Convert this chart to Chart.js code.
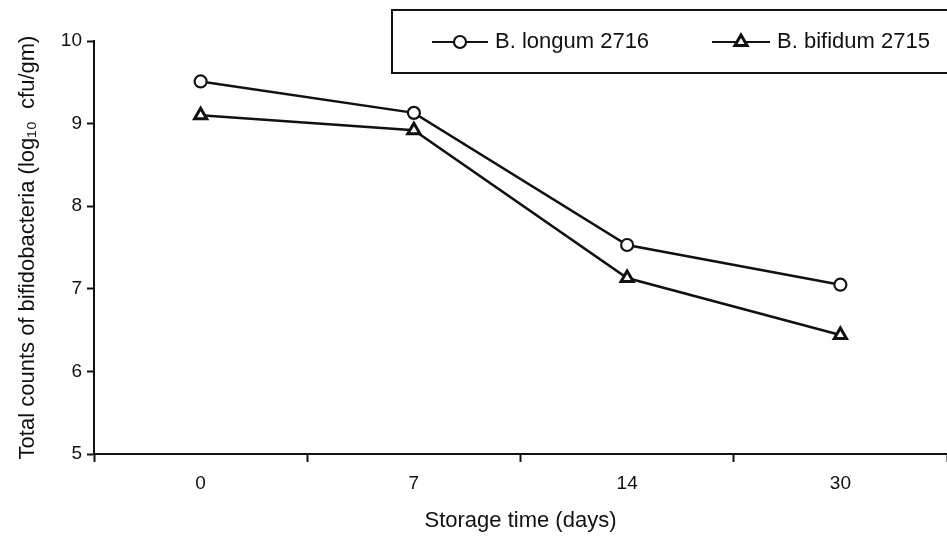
<!DOCTYPE html>
<html>
<head>
<meta charset="utf-8">
<script src="https://cdn.jsdelivr.net/npm/chart.js@4"></script>
<style>
  html, body { margin: 0; padding: 0; background: #fff; overflow: hidden; }
  canvas { display: block; }
</style>
</head>
<body>
<canvas id="c" width="947" height="538"></canvas>
<script>
// ---- data ----
const categories = ['0', '7', '14', '30'];
const longumValues = [9.51, 9.13, 7.53, 7.05];
const bifidumValues = [9.10, 8.92, 7.13, 6.44];
const seriesNames = ['B. longum 2716', 'B. bifidum 2715'];
const yTicks = [5, 6, 7, 8, 9, 10];
const xTitle = 'Storage time (days)';
const yTitle = 'Total counts of bifidobacteria (log\u2081\u2080  cfu/gm)';

const FONT = '"Liberation Sans", Arial, Helvetica, sans-serif';
const INK = '#111';

function drawMarker(ctx, style, x, y, r, bw) {
  ctx.save();
  ctx.lineWidth = bw;
  ctx.strokeStyle = INK;
  ctx.fillStyle = '#fff';
  ctx.beginPath();
  if (style === 'circle') {
    ctx.arc(x, y, r, 0, Math.PI * 2);
  } else {
    const s = r * 3 / Math.sqrt(3);
    const h = s * Math.sqrt(3) / 2;
    ctx.moveTo(x - s / 2, y + h / 3);
    ctx.lineTo(x + s / 2, y + h / 3);
    ctx.lineTo(x, y - 2 * h / 3);
    ctx.closePath();
  }
  ctx.fill();
  ctx.stroke();
  ctx.restore();
}

const boxLegend = {
  id: 'boxLegend',
  afterDraw(chart) {
    const ctx = chart.ctx;
    ctx.save();
    ctx.lineWidth = 2;
    ctx.strokeStyle = INK;
    ctx.fillStyle = '#fff';
    ctx.fillRect(392, 10, 600, 63);
    ctx.strokeRect(392, 10, 600, 63);
    const items = [
      { x0: 432, x1: 488, tx: 495 },
      { x0: 712, x1: 770, tx: 777 }
    ];
    const cy = 42;
    chart.data.datasets.forEach((ds, i) => {
      const it = items[i];
      ctx.lineWidth = 2;
      ctx.strokeStyle = INK;
      ctx.beginPath();
      ctx.moveTo(it.x0, cy);
      ctx.lineTo(it.x1, cy);
      ctx.stroke();
      drawMarker(ctx, ds.pointStyle, (it.x0 + it.x1) / 2, cy, ds.pointRadius, ds.pointBorderWidth);
      ctx.fillStyle = INK;
      ctx.font = '22px ' + FONT;
      ctx.textBaseline = 'middle';
      ctx.textAlign = 'left';
      ctx.fillText(ds.label, it.tx, cy);
    });
    ctx.restore();
  }
};

new Chart(document.getElementById('c'), {
  type: 'line',
  data: {
    labels: categories,
    datasets: [
      {
        label: seriesNames[0],
        data: longumValues,
        borderColor: INK,
        borderWidth: 2.5,
        pointStyle: 'circle',
        pointRadius: 6,
        pointBorderWidth: 2.2,
        pointBackgroundColor: '#fff',
        pointBorderColor: INK,
        tension: 0
      },
      {
        label: seriesNames[1],
        data: bifidumValues,
        borderColor: INK,
        borderWidth: 2.5,
        pointStyle: 'triangle',
        pointRadius: 7,
        pointBorderWidth: 3,
        pointBackgroundColor: '#fff',
        pointBorderColor: INK,
        tension: 0
      }
    ]
  },
  options: {
    responsive: false,
    devicePixelRatio: 1,
    animation: false,
    layout: { autoPadding: false, padding: { top: 41, right: 0, bottom: 0, left: 0 } },
    plugins: { legend: { display: false }, tooltip: { enabled: false } },
    scales: {
      x: {
        type: 'category',
        offset: true,
        grid: {
          offset: true,
          drawOnChartArea: false,
          drawTicks: true,
          tickLength: 8,
          tickColor: INK,
          tickWidth: 2
        },
        border: { display: true, color: INK, width: 2 },
        ticks: { color: INK, font: { family: FONT, size: 19 }, padding: 10 },
        title: {
          display: true,
          text: xTitle,
          color: INK,
          font: { family: FONT, size: 22 },
          padding: { top: 12, bottom: 4 }
        },
        afterFit(scale) { scale.height = 84; }
      },
      y: {
        min: 5,
        max: 10,
        afterBuildTicks(scale) { scale.ticks = yTicks.map(v => ({ value: v })); },
        grid: {
          drawOnChartArea: false,
          drawTicks: true,
          tickLength: 7,
          tickColor: INK,
          tickWidth: 2
        },
        border: { display: true, color: INK, width: 2 },
        ticks: { color: INK, font: { family: FONT, size: 19 }, padding: 5 },
        title: {
          display: true,
          text: yTitle,
          color: INK,
          font: { family: FONT, size: 22 },
          padding: { top: 15, bottom: 0 }
        },
        afterFit(scale) { scale.width = 94; }
      }
    }
  },
  plugins: [boxLegend]
});
</script>
</body>
</html>
